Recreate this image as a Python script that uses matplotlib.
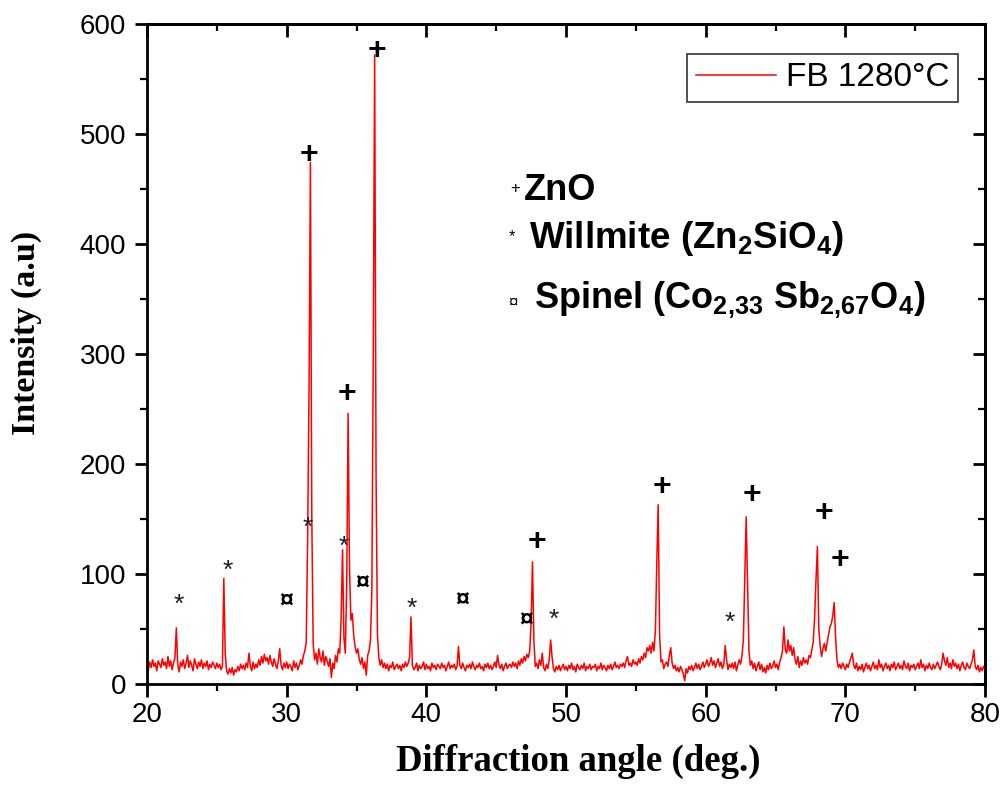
import matplotlib
matplotlib.use('Agg')
import matplotlib.pyplot as plt
from matplotlib.ticker import MultipleLocator
import numpy as np

plt.rcParams['font.family'] = ['Liberation Sans', 'DejaVu Sans']
plt.rcParams['mathtext.fontset'] = 'custom'
plt.rcParams['mathtext.rm'] = 'Liberation Sans'
plt.rcParams['mathtext.bf'] = 'Liberation Sans:bold'

# XRD trace, one row per degree (20.0 ... 20.9, 21.0 ... 21.9, ...), last value is 80.0
start_angle = 20.0
step = 0.1
intensity_rows = [
    [17, 13, 20, 15, 22, 16, 19, 12, 21, 18],
    [15, 23, 17, 20, 14, 25, 16, 21, 13, 19],
    [24, 51, 18, 11, 20, 16, 22, 14, 19, 26],
    [15, 21, 17, 12, 23, 18, 14, 20, 16, 22],
    [14, 19, 16, 21, 13, 18, 15, 20, 17, 14],
    [19, 15, 18, 13, 16, 96, 28, 12, 9, 14],
    [10, 15, 8, 13, 11, 16, 12, 18, 14, 17],
    [13, 19, 15, 28, 16, 12, 20, 14, 18, 15],
    [22, 17, 25, 19, 27, 21, 24, 18, 26, 20],
    [16, 23, 18, 14, 21, 32, 17, 13, 19, 15],
    [20, 14, 18, 16, 12, 21, 15, 19, 13, 17],   # 30
    [22, 18, 26, 30, 38, 130, 265, 474, 150, 36],
    [22, 28, 18, 32, 24, 20, 30, 17, 25, 21],
    [16, 23, 6, 19, 14, 26, 20, 32, 28, 60],
    [122, 42, 28, 92, 246, 105, 58, 64, 44, 34],
    [28, 32, 22, 18, 24, 14, 20, 8, 26, 30],
    [40, 85, 300, 572, 190, 45, 24, 17, 22, 15],
    [19, 14, 18, 12, 17, 15, 20, 13, 16, 18],
    [14, 17, 12, 18, 15, 20, 16, 19, 24, 61],
    [17, 13, 15, 19, 12, 17, 14, 16, 20, 13],
    [18, 14, 16, 12, 19, 15, 17, 13, 18, 16],   # 40
    [14, 19, 15, 17, 12, 16, 20, 14, 17, 15],
    [18, 13, 16, 34, 17, 14, 19, 15, 12, 17],
    [15, 18, 14, 20, 16, 13, 17, 15, 19, 14],
    [16, 12, 18, 15, 19, 14, 17, 13, 16, 20],
    [15, 26, 17, 14, 18, 12, 16, 19, 14, 17],
    [18, 15, 20, 16, 19, 14, 21, 17, 23, 19],
    [25, 21, 27, 24, 30, 55, 111, 40, 16, 19],
    [14, 22, 17, 28, 15, 12, 18, 14, 22, 40],
    [25, 14, 11, 16, 13, 17, 12, 15, 18, 13],
    [16, 12, 17, 14, 19, 13, 16, 11, 18, 15],   # 50
    [13, 17, 14, 19, 12, 16, 14, 18, 13, 16],
    [15, 18, 12, 16, 14, 19, 13, 17, 15, 12],
    [17, 14, 18, 13, 16, 20, 15, 17, 14, 18],
    [16, 19, 15, 21, 25, 17, 19, 16, 22, 18],
    [20, 17, 23, 19, 25, 22, 28, 24, 33, 30],
    [35, 28, 38, 30, 48, 110, 163, 45, 20, 22],
    [14, 18, 20, 16, 26, 33, 19, 14, 17, 12],
    [15, 11, 16, 13, 9, 3, 14, 10, 16, 13],
    [17, 12, 15, 19, 14, 18, 13, 16, 20, 15],
    [18, 22, 16, 19, 24, 17, 21, 15, 19, 23],   # 60
    [16, 20, 14, 18, 35, 22, 13, 18, 15, 19],
    [14, 20, 12, 17, 22, 18, 26, 40, 95, 152],
    [90, 30, 17, 21, 14, 19, 12, 16, 20, 13],
    [18, 11, 15, 10, 17, 13, 19, 14, 16, 21],
    [15, 18, 13, 20, 24, 30, 52, 31, 28, 40],
    [30, 35, 26, 33, 22, 18, 25, 15, 21, 17],
    [24, 19, 22, 18, 26, 24, 31, 38, 60, 95],
    [125, 50, 34, 25, 32, 37, 30, 38, 45, 52],
    [55, 62, 74, 43, 22, 15, 18, 14, 19, 16],
    [13, 18, 15, 20, 24, 28, 17, 14, 19, 12],   # 70
    [16, 13, 18, 11, 15, 19, 14, 17, 12, 16],
    [20, 14, 17, 13, 22, 15, 18, 12, 16, 19],
    [14, 17, 12, 18, 15, 20, 13, 16, 19, 14],
    [17, 13, 21, 16, 14, 19, 12, 17, 15, 18],
    [13, 16, 19, 14, 22, 15, 18, 12, 17, 14],
    [19, 15, 13, 18, 14, 17, 20, 16, 13, 18],
    [28, 21, 17, 24, 15, 19, 14, 22, 16, 19],
    [14, 18, 12, 17, 20, 15, 13, 19, 16, 14],
    [18, 22, 31, 16, 13, 17, 11, 15, 12, 16],
    [13],
]
intensity = np.array([v for row in intensity_rows for v in row], dtype=float)
angle = start_angle + step * np.arange(len(intensity))

# phase marks above the peaks
zno_x = [31.59, 36.46, 34.31, 47.94, 56.84, 63.3, 68.46, 69.6]
zno_y = [481, 575, 264, 129, 179, 172, 155, 113]
willemite_x = [22.26, 25.78, 31.51, 34.1, 38.97, 49.09, 61.7]
willemite_y = [72, 103, 142, 125, 68, 58, 56]
spinel_x = [29.94, 35.39, 42.56, 47.15]
spinel_y = [75, 91, 76, 58]

fig = plt.figure(figsize=(10.03, 7.89), dpi=100)
ax = fig.add_axes([147/1003, 1-684/789, 838/1003, 660/789])

ax.plot(angle, intensity, color='red', lw=1.1, label='FB 1280°C')

for x, y in zip(zno_x, zno_y):
    ax.text(x, y, '+', fontsize=23, fontweight='bold', ha='center', va='center')
for x, y in zip(willemite_x, willemite_y):
    ax.text(x, y, '*', fontsize=19, ha='center', va='center', color='#1a1a2a')
for x, y in zip(spinel_x, spinel_y):
    ax.text(x, y, '¤', fontsize=18, fontweight='bold', ha='center', va='center')

# phase key
ax.text(46.36, 450, '+', fontsize=12, ha='center', va='center')
ax.text(47.01, 440, 'ZnO', fontsize=26, fontweight='bold', va='baseline')
ax.text(46.15, 407, '*', fontsize=12, ha='center', va='center')
ax.text(47.37, 396, r'Willmite (Zn$_\mathbf{2}$SiO$_\mathbf{4}$)', fontsize=26.5,
        fontweight='bold', va='baseline')
ax.text(46.22, 347, '¤', fontsize=12, ha='center', va='center')
ax.text(47.73, 342, r'Spinel (Co$_\mathbf{2{,}33}$ Sb$_\mathbf{2{,}67}$O$_\mathbf{4}$)',
        fontsize=26, fontweight='bold', va='baseline')

ax.set_xlim(20, 80)
ax.set_ylim(0, 600)
ax.xaxis.set_major_locator(MultipleLocator(10))
ax.xaxis.set_minor_locator(MultipleLocator(5))
ax.yaxis.set_major_locator(MultipleLocator(100))
ax.yaxis.set_minor_locator(MultipleLocator(50))
for s in ax.spines.values():
    s.set_linewidth(2)
ax.tick_params(which='major', direction='out', length=9, width=2, labelsize=20, pad=4)
ax.tick_params(axis='y', which='major', pad=6)
ax.tick_params(which='minor', direction='out', length=5, width=1.6)

# top and right: inward ticks, no labels
top = ax.secondary_xaxis('top')
top.xaxis.set_major_locator(MultipleLocator(10))
top.xaxis.set_minor_locator(MultipleLocator(5))
top.tick_params(which='major', direction='in', length=9, width=2, labeltop=False)
top.tick_params(which='minor', direction='in', length=5, width=1.6)
right = ax.secondary_yaxis('right')
right.yaxis.set_major_locator(MultipleLocator(100))
right.yaxis.set_minor_locator(MultipleLocator(50))
right.tick_params(which='major', direction='in', length=9, width=2, labelright=False)
right.tick_params(which='minor', direction='in', length=5, width=1.6)
for s in list(top.spines.values()) + list(right.spines.values()):
    s.set_linewidth(2)

ax.set_xlabel('Diffraction angle (deg.)', family='Liberation Serif', fontweight='bold', fontsize=26.5)
ax.set_ylabel('Intensity (a.u)', family='Liberation Serif', fontweight='bold', fontsize=24.5)
ax.xaxis.set_label_coords(0.515, -0.09)
ax.yaxis.set_label_coords(-0.125, 0.532)

leg = ax.legend(loc='upper right', bbox_to_anchor=(0.968, 0.955), borderaxespad=0,
                fontsize=24, handlelength=2.4, handletextpad=0.3, fancybox=False,
                framealpha=1, edgecolor='#333333', borderpad=0.26)
leg.get_frame().set_linewidth(1.2)

fig.savefig('out.png', dpi=100)
